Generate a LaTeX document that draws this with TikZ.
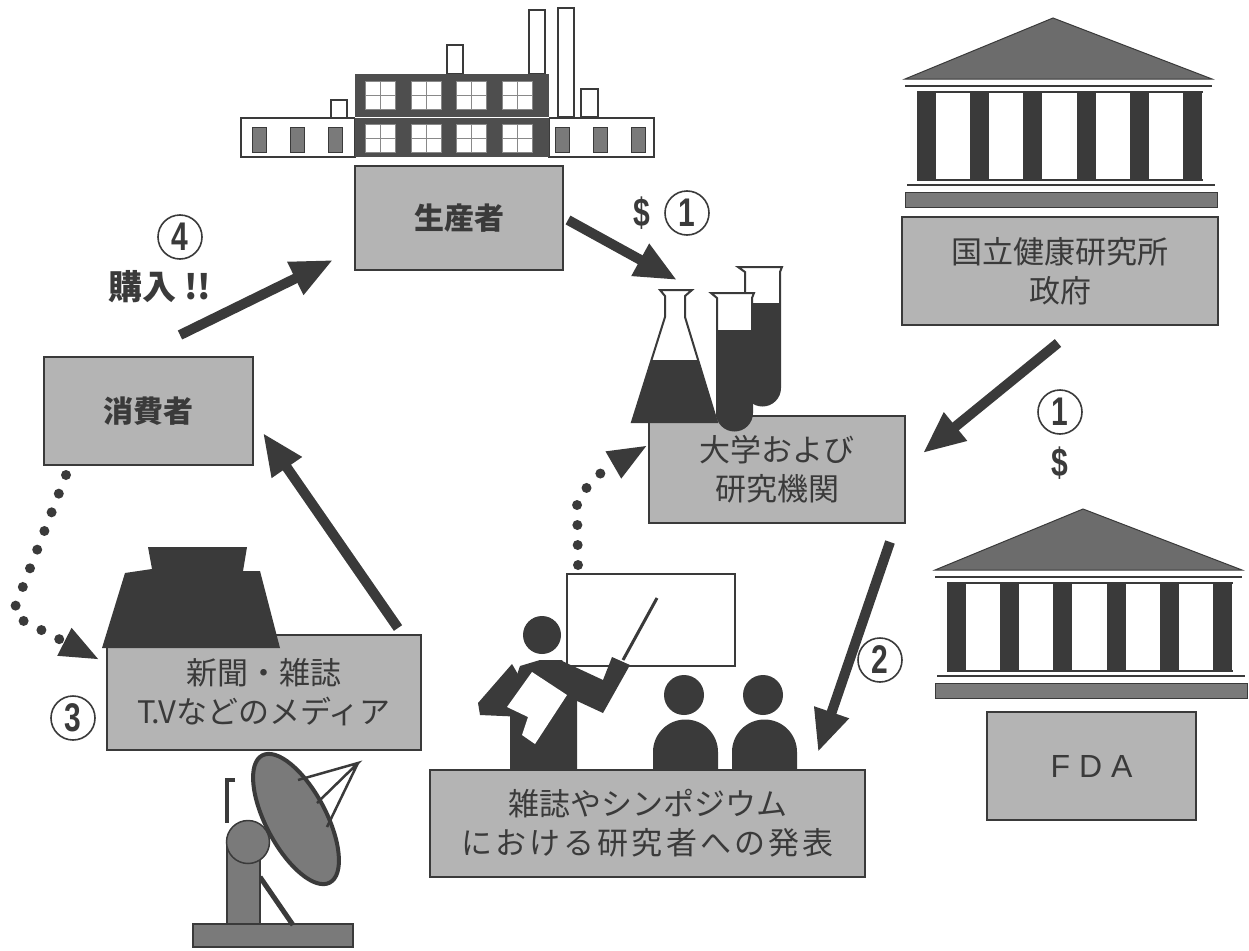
\documentclass[tikz,border=0pt]{standalone}
\usepackage{fontspec}
\setmainfont{Liberation Sans}
\newfontfamily\jpfont{Noto Sans CJK JP}
\newfontfamily\digitfont{Liberation Sans}[FakeStretch=0.75]
\usetikzlibrary{arrows.meta,positioning}
\definecolor{ink}{HTML}{3a3a3a}
\definecolor{tone}{HTML}{b4b4b4}
\definecolor{midtone}{HTML}{7a7a7a}
\definecolor{rooftone}{HTML}{6c6c6c}
\tikzstyle{box} = [draw=ink, line width=2pt, fill=tone, text=ink, align=center, inner sep=0pt, font=\jpfont\fontsize{31}{39}\selectfont]
\tikzstyle{boldbox} = [box, font=\jpfont\bfseries\fontsize{30}{36}\selectfont]
\tikzstyle{fat} = [draw=ink, line width=10pt, -{Triangle[length=42pt,width=34pt]}]
\tikzstyle{dots} = [draw=ink, line width=10pt, line cap=round, dash pattern=on 0pt off 20pt, -{Triangle[length=40pt,width=28pt]}]
\tikzstyle{num} = [circle, draw=ink, line width=1.6pt, minimum size=44pt, inner sep=0pt, text=ink, font=\digitfont\bfseries\fontsize{40}{40}\selectfont]
\tikzstyle{cash} = [text=ink, inner sep=0pt, font=\digitfont\bfseries\fontsize{40}{40}\selectfont]
\newcommand{\temple}[1]{%
	\begin{scope}[shift={#1}]
		% roof
		\filldraw[draw=ink, fill=rooftone, line width=1pt] (0,61) -- (148,0) -- (307,61) -- cycle;
		\draw[ink, line width=1.5pt] (0,68) -- (307,68) (12,74) -- (298,74) (12,162) -- (298,162) (2,167) -- (310,167);
		% pillars
		\foreach \i in {0,...,5}
			\fill[ink] (12+53.2*\i,74) rectangle ++(19,88);
		% step
		\filldraw[draw=ink, fill=midtone, line width=1pt] (0,174) rectangle (312,189);
	\end{scope}}

\begin{document}
\begin{tikzpicture}[x=1pt,y=-1pt]
	\fill[white] (0,0) rectangle (1249,950);
	\useasboundingbox (0,0) rectangle (1249,950);

	% Factory
	\draw[ink, line width=1.5pt, fill=white] (241,118) rectangle (355,157) (549,118) rectangle (654,157);
	\foreach \x in {252,290,328,555,593,631}
		\filldraw[draw=ink, fill=midtone, line width=1pt] (\x,127) rectangle ++(14,25);
	\draw[ink, line width=1.5pt, fill=white]
		(331,100) rectangle (347,118) % chimneys
		(447,45) rectangle (463,74)
		(529,10) rectangle (545,74)
		(558,8) rectangle (574,117)
		(581,89) rectangle (598,117);
	\fill[ink!90] (355,74) rectangle (549,157);
	\draw[white, line width=1pt] (355,117) -- (549,117);
	\foreach \x in {365,411,456,502}
		\foreach \y in {81,124} {
			\filldraw[draw=ink!60, fill=white, line width=.8pt] (\x,\y) rectangle ++(30,28);
			\draw[ink!60, line width=.8pt] (\x+15,\y) -- ++(0,28) (\x,\y+14) -- ++(30,0);
		}

	% Government buildings
	\temple{(905,18)}
	\temple{(935,509)}

	% Boxes
	\node[boldbox, minimum width=208pt, minimum height=104pt] (producer) at (459,218) {生産者};
	\node[boldbox, minimum width=209pt, minimum height=108pt] (consumer) at (148.5,411) {消費者};
	\node[box, minimum width=316pt, minimum height=108pt] (nih) at (1060,271) {国立健康研究所\\政府};
	\node[box, minimum width=256pt, minimum height=107pt] (univ) at (777,469.5) {大学および\\研究機関};
	\node[box, minimum width=314pt, minimum height=115pt] (media) at (264,692.5) {新聞・雑誌\\T.Vなどのメディア};
	\node[box, minimum width=435pt, minimum height=107pt] (talk) at (647.5,823.5)
		{雑誌やシンポジウム\\{\addfontfeature{LetterSpace=10}における研究者への発表}};
	\node[box, minimum width=209pt, minimum height=108pt, font=\fontsize{32}{32}\selectfont] (fda) at (1091.5,766) {F D A};

	% Flasks
	\filldraw[draw=ink, fill=white, line width=2pt] (738,267) -- (782,267) -- (780,272) -- (780,388)
		arc[start angle=0, end angle=-180, radius=17.5pt] -- (745,272) -- cycle;
	\fill[ink] (745,303) -- (780,303) -- (780,388) arc[start angle=0, end angle=-180, radius=17.5pt] -- cycle;
	\filldraw[draw=ink, fill=white, line width=2pt] (711,293) -- (754,293) -- (752,298) -- (752,413)
		arc[start angle=0, end angle=-180, radius=17.5pt] -- (717,298) -- cycle;
	\fill[ink] (717,330) -- (752,330) -- (752,413) arc[start angle=0, end angle=-180, radius=17.5pt] -- cycle;
	\filldraw[draw=ink, fill=white, line width=2pt] (660,290) -- (692,290) -- (685,296) -- (685,317)
		-- (717,422) -- (632,422) -- (665,317) -- (665,296) -- cycle;
	\fill[ink] (651.5,360) -- (698.5,360) -- (717,422) -- (632,422) -- cycle;

	% Printing press
	\fill[ink] (148,547) -- (247,547) -- (243,571) -- (260,571) -- (280,648) -- (102,648)
		-- (125,573) -- (152,569) -- cycle;

	% Dish aerial
	\filldraw[draw=ink, fill=midtone, line width=1.5pt] (193,924) rectangle (353,947);
	\draw[ink, line width=5pt] (260,877) -- (293,925);
	\filldraw[draw=ink, fill=midtone, line width=1.5pt] (227,842) rectangle (260,924);
	\filldraw[draw=ink, fill=midtone, line width=1.5pt] (248,842) circle (21.5pt);
	\filldraw[draw=ink, fill=midtone, line width=4pt, rotate around={-62:(296,819)}]
		(296,819) ellipse [x radius=72pt, y radius=30pt];
	\draw[ink, line width=2.5pt] (298,780) -- (358,763) -- (317,803) (358,763) -- (327,827);
	\draw[ink, line width=4pt] (235,780) -- (227,780) -- (227,823);

	% Speaker and audience
	\filldraw[draw=ink, fill=white, line width=1.5pt] (567,574) rectangle (735,666);
	\draw[ink, line width=3pt] (623,660) -- (657,598);
	\fill[ink] (542,635) circle (19pt);
	\fill[ink] (510,770) -- (510,695) -- (520,666) -- (540,660) -- (562,660) -- (577,690) -- (577,770) -- cycle;
	\fill[ink] (560,660) -- (603,680) -- (612,657) -- (630,665) -- (603,713) -- (575,700) -- cycle;
	\fill[ink] (512,664) -- (478,703) -- (480,715) -- (525,717) -- (533,700) -- cycle;
	\fill[white] (532,672) -- (567,695) -- (535,744) -- (522,735) -- (528,717) -- (507,707) -- cycle;
	\foreach \x in {684,763} {
		\fill[ink] (\x,695) circle (20pt);
		\fill[ink] (\x-31,770) -- (\x-31,752) arc[start angle=180, end angle=0, radius=32.5pt] -- (\x+34,770) -- cycle;
	}

	% Labels
	\node[num] (n1a) at (687,213) {1};
	\node[cash, left=14pt of n1a] {\$};
	\node[num] (n1b) at (1060,412) {1};
	\node[cash, below=12pt of n1b] {\$};
	\node[num] (n2) at (880,660) {2};
	\node[num] (n3) at (73,718) {3};
	\node[num] (n4) at (180,237) {4};
	\node[text=ink, inner sep=0pt, font=\jpfont\bfseries\fontsize{34}{34}\selectfont] (buy) at (160,287) {購入 !!};

	% Flows
	\coordinate (buy tail) at (180,335);
	\coordinate (buy head) at (333,260);
	\coordinate (pay tail) at (568,220);
	\coordinate (pay head) at (677,280);
	\coordinate (grant tail) at (1058,343);
	\coordinate (grant head) at (923,453);
	\coordinate (pub tail) at (890,542);
	\coordinate (pub head) at (818,752);
	\coordinate (news tail) at (398,628);
	\coordinate (news head) at (263,433);
	\draw[fat] (buy tail) -- (buy head);
	\draw[fat] (pay tail) -- (pay head);
	\draw[fat] (grant tail) -- (grant head);
	\draw[fat] (pub tail) -- (pub head);
	\draw[fat] (news tail) -- (news head);

	% Word of mouth
	\coordinate (read) at (66,475);
	\coordinate (turn) at (12,615);
	\coordinate (told) at (100,660);
	\draw[dots, rounded corners=8pt] (read) -- (turn) -- (told);
	\coordinate (cite) at (578,565);
	\coordinate (bend) at (577,502);
	\coordinate (back) at (648,445);
	\draw[dots] (cite) -- (bend) to[out=60, in=-150] (back);
\end{tikzpicture}
\end{document}
